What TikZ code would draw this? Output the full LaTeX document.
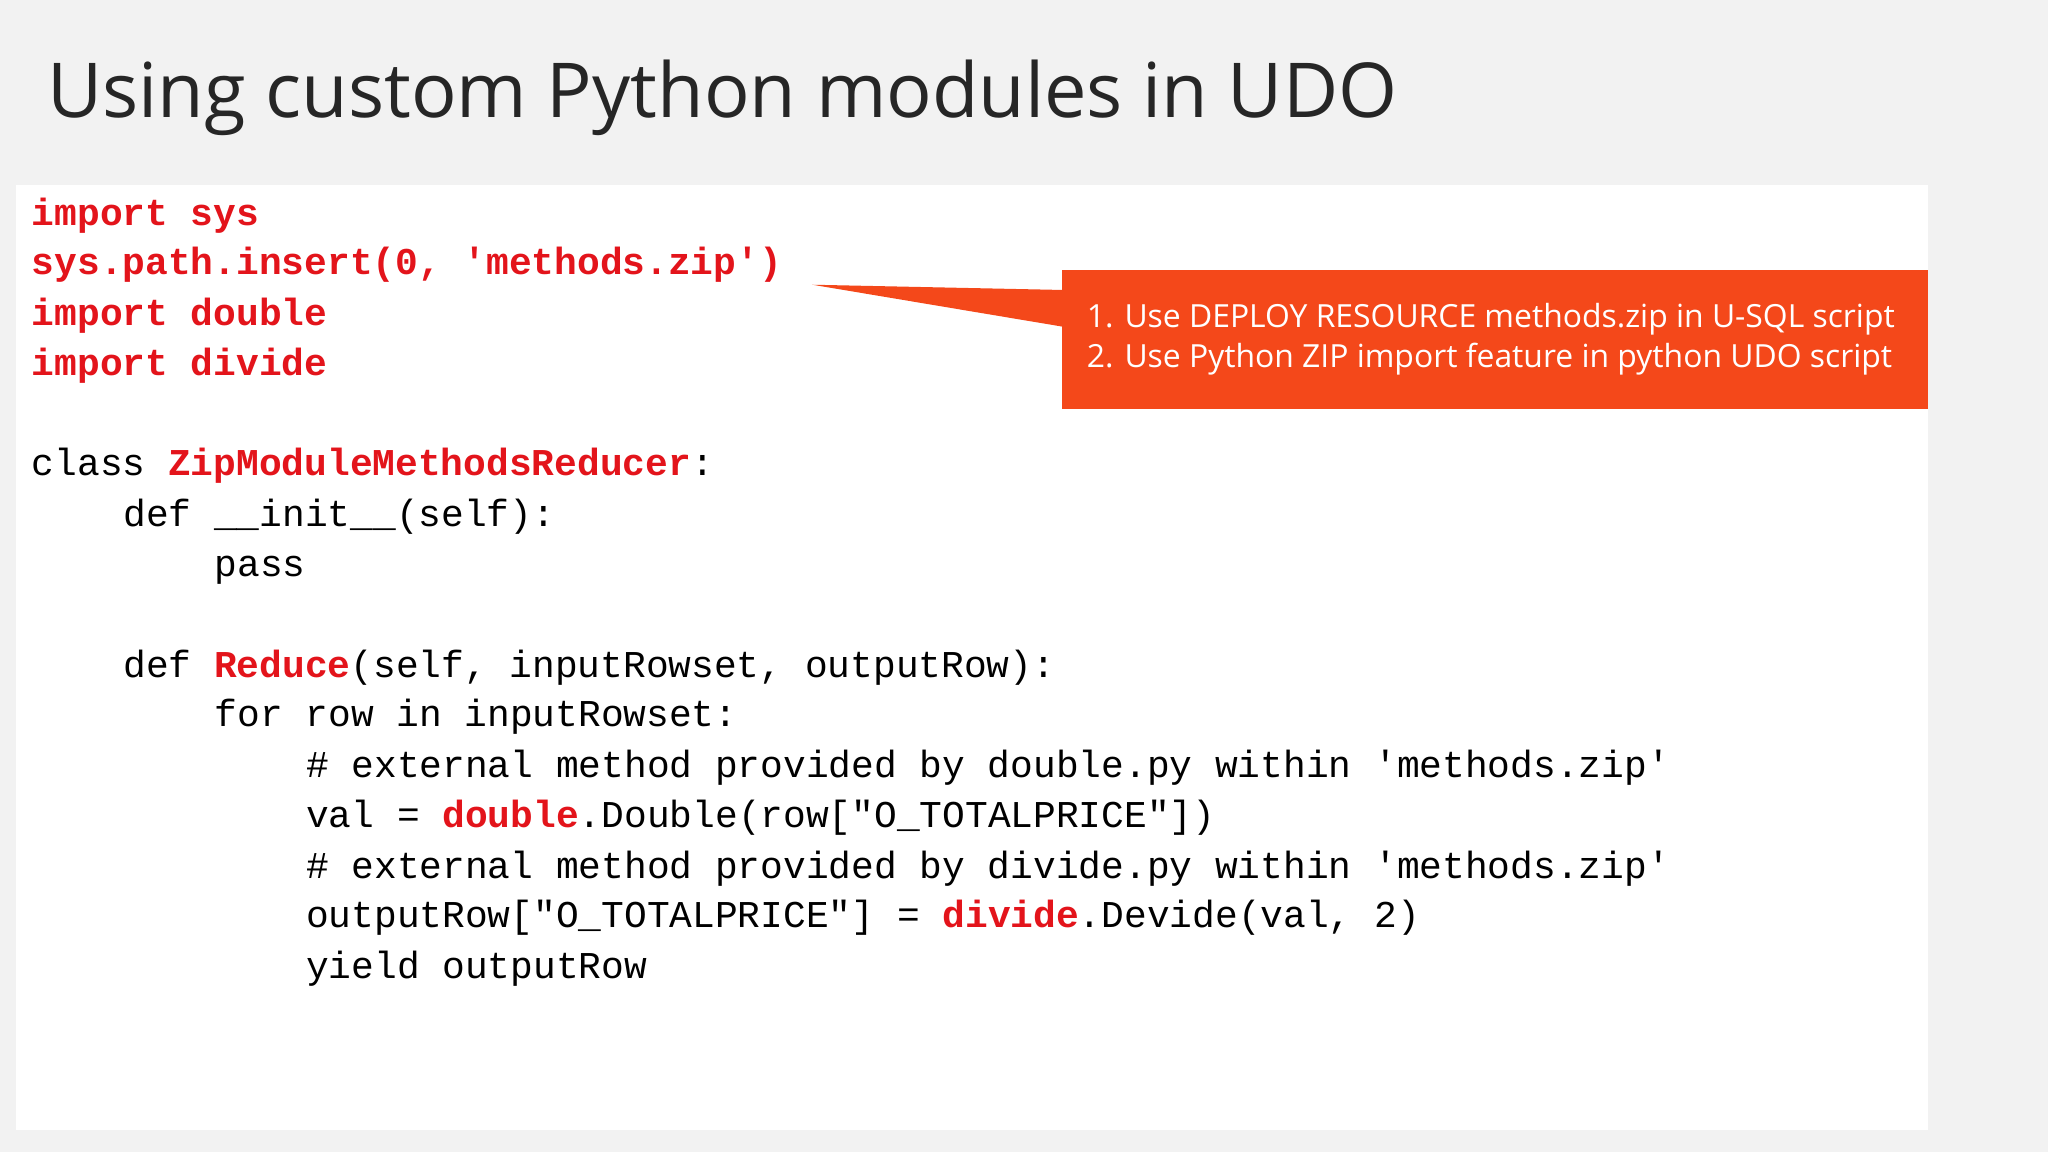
\documentclass[tikz,border=0pt]{standalone}
\usepackage{fontspec}
\setmainfont{Open Sans}
\newfontfamily\codefont{Liberation Mono}
\usetikzlibrary{positioning}
\definecolor{slidebg}{HTML}{F2F2F2}
\definecolor{kwred}{HTML}{E3141B}
\definecolor{callred}{HTML}{F4481A}
\newcommand{\kw}[1]{\textcolor{kwred}{\textbf{#1}}}

\begin{document}
\begin{tikzpicture}[x=0.5pt,y=-0.5pt,
	codeline/.style={anchor=mid west,inner sep=0pt,font=\codefont\fontsize{14.5pt}{16pt}\selectfont}]
	\useasboundingbox (0,0) rectangle (1568,882);
	\fill[slidebg] (0,0) rectangle (1568,882);
	\fill[white] (12,142) rectangle (1476,865);
	\node[anchor=base west,inner sep=0pt,font=\fontsize{29pt}{34pt}\selectfont\color{black!85}] (title) at (36,90) {Using custom Python modules in UDO};
	% code lines
	\node[codeline] (l1) at (24,167) {\kw{import sys}};
	\node[codeline] (l2) at (24,205) {\kw{sys.path.insert(0, 'methods.zip')}};
	\node[codeline] (l3) at (24,244) {\kw{import double}};
	\node[codeline] (l4) at (24,282) {\kw{import divide}};
	\node[codeline] (l5) at (24,359) {class \kw{ZipModuleMethodsReducer}:};
	\node[codeline] (l6) at (94,398) {def \_\_init\_\_(self):};
	\node[codeline] (l7) at (164,436) {pass};
	\node[codeline] (l8) at (94,513) {def \kw{Reduce}(self, inputRowset, outputRow):};
	\node[codeline] (l9) at (164,551) {for row in inputRowset:};
	\node[codeline] (l10) at (234,590) {\# external method provided by double.py within 'methods.zip'};
	\node[codeline] (l11) at (234,628) {val = \kw{double}.Double(row["O\_TOTALPRICE"])};
	\node[codeline] (l12) at (234,667) {\# external method provided by divide.py within 'methods.zip'};
	\node[codeline] (l13) at (234,705) {outputRow["O\_TOTALPRICE"] = \kw{divide}.Devide(val, 2)};
	\node[codeline] (l14) at (234,744) {yield outputRow};
	% callout
	\node[fill=callred,anchor=north west,minimum width=331.5pt,minimum height=53.5pt,inner sep=0pt] (note) at (813,206) {};
	\node[anchor=west,text=white,align=left,font=\fontsize{12.2pt}{15.5pt}\selectfont] (notetext) at ([xshift=6pt]note.west) {1. Use DEPLOY RESOURCE methods.zip in U-SQL script\\2. Use Python ZIP import feature in python UDO script};
	\coordinate (tip) at (622,218);
	\fill[callred] (tip) -- (note.north west |- 0,222) -- (note.north west |- 0,250) -- cycle;
\end{tikzpicture}
\end{document}
